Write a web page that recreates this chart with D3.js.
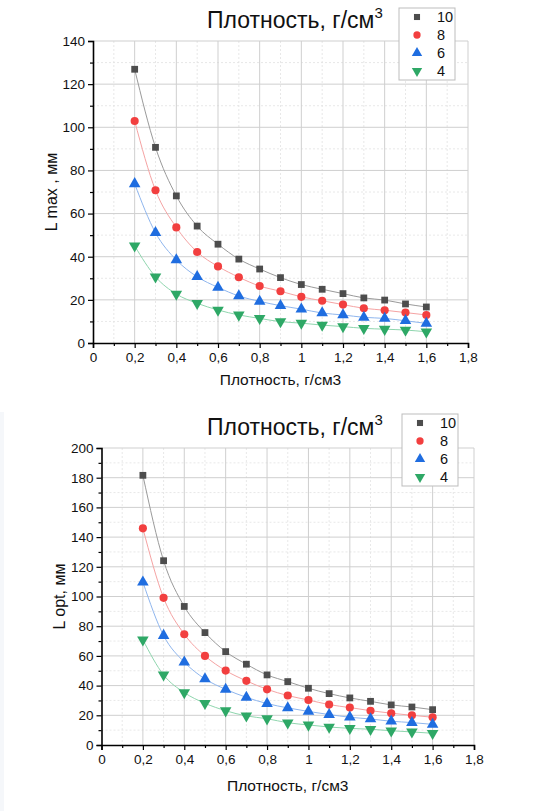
<!DOCTYPE html>
<html><head><meta charset="utf-8">
<script src="https://cdn.jsdelivr.net/npm/d3@7"></script>
<style>
body{margin:0;background:#fff;}
svg{display:block;font-family:"Liberation Sans",Arial,sans-serif;}
</style></head>
<body>
<svg id="c" width="545" height="811"></svg>
<script>
const density = [0.2,0.3,0.4,0.5,0.6,0.7,0.8,0.9,1.0,1.1,1.2,1.3,1.4,1.5,1.6];
const seriesNames = ["10","8","6","4"];
const lmax10 = [126.9,90.7,68.2,54.2,45.8,38.9,34.3,30.3,27.1,24.9,22.9,20.9,19.9,18.1,16.7];
const lmax8  = [102.9,70.8,53.6,42.2,35.5,30.5,26.4,24.0,21.4,19.6,17.8,16.1,15.2,14.1,13.0];
const lmax6  = [73.8,51.1,38.5,30.7,25.8,21.8,19.3,17.3,15.7,13.9,13.0,11.9,11.4,10.3,9.1];
const lmax4  = [45.0,30.7,22.7,18.4,15.3,13.0,11.4,9.9,9.2,8.3,7.6,6.8,6.4,6.0,5.2];
const lopt10 = [181.6,124.1,93.3,75.7,62.9,54.4,47.2,42.7,38.2,34.6,31.7,29.4,27.0,25.6,23.8];
const lopt8  = [145.9,99.1,74.6,60.0,50.1,43.2,37.5,33.3,30.3,27.2,25.2,23.1,21.4,20.0,18.7];
const lopt6  = [109.7,73.7,55.8,44.5,37.5,32.1,27.9,25.0,22.6,20.5,18.7,17.5,16.0,15.1,13.9];
const lopt4  = [70.8,47.2,35.3,28.1,23.1,19.6,17.7,15.0,13.5,12.1,11.2,10.6,9.6,8.8,7.9];
const xTicks = [0,0.2,0.4,0.6,0.8,1,1.2,1.4,1.6,1.8];
const lmaxTicks = [0,20,40,60,80,100,120,140];
const loptTicks = [0,20,40,60,80,100,120,140,160,180,200];
const titleText = "Плотность, г/см";
const xTitle = "Плотность, г/см3";

const markerColors = ["#4d4d4d","#f23f3f","#1f6de0","#2ea866"];
const lineColors = ["#9a9a9a","#f5a3a3","#8fb6ee","#8fd6ae"];
const shapes = [d3.symbolSquare, d3.symbolCircle, d3.symbolTriangle, d3.symbolTriangle];
const sizes = [46, 52, 58, 58];
const rots = [0,0,0,180];

const svg = d3.select("#c");
svg.append("rect").attr("x",0).attr("y",412).attr("width",4).attr("height",399).attr("fill","#f5f7fa");

const fmt = v => String(v).replace(".", ",");

function drawChart(cfg){
  const g = svg.append("g");
  const x = d3.scaleLinear().domain([0,1.8]).range([cfg.left,cfg.right]);
  const y = d3.scaleLinear().domain([0,cfg.ymax]).range([cfg.bottom,cfg.top]);
  const xMinor = d3.range(0.1,1.8,0.2);
  const yMinor = d3.range(cfg.ystep/2, cfg.ymax, cfg.ystep);
  g.selectAll(".xmg").data(xMinor).join("line")
    .attr("x1",d=>x(d)).attr("x2",d=>x(d)).attr("y1",cfg.top).attr("y2",cfg.bottom)
    .attr("stroke","#e2e2e2").attr("stroke-dasharray","2,2").attr("stroke-width",0.8);
  g.selectAll(".ymg").data(yMinor).join("line")
    .attr("x1",cfg.left).attr("x2",cfg.right).attr("y1",d=>y(d)).attr("y2",d=>y(d))
    .attr("stroke","#e2e2e2").attr("stroke-dasharray","2,2").attr("stroke-width",0.8);
  g.selectAll(".xg").data(xTicks.slice(1)).join("line")
    .attr("x1",d=>x(d)).attr("x2",d=>x(d)).attr("y1",cfg.top).attr("y2",cfg.bottom)
    .attr("stroke","#cfcfcf").attr("stroke-width",1);
  g.selectAll(".yg").data(cfg.yTicks.slice(1)).join("line")
    .attr("x1",cfg.left).attr("x2",cfg.right).attr("y1",d=>y(d)).attr("y2",d=>y(d))
    .attr("stroke","#cfcfcf").attr("stroke-width",1);

  const xAxis = d3.axisBottom(x).tickValues(xTicks).tickFormat(fmt).tickSize(5).tickPadding(4);
  const xa = g.append("g").attr("transform",`translate(0,${cfg.bottom})`).call(xAxis);
  const yAxis = d3.axisLeft(y).tickValues(cfg.yTicks).tickFormat(d=>d).tickSize(5).tickPadding(3);
  const ya = g.append("g").attr("transform",`translate(${cfg.left},0)`).call(yAxis);
  [xa,ya].forEach(a=>{
    a.select(".domain").attr("stroke","#000").attr("stroke-width",1.6);
    a.selectAll(".tick line").attr("stroke","#000").attr("stroke-width",1.2);
    a.selectAll("text").attr("fill","#111").style("font-size","13.5px").style("font-family","'Liberation Sans',Arial,sans-serif");
  });
  const xm = d3.axisBottom(x).tickValues(xMinor).tickFormat("").tickSize(3);
  g.append("g").attr("transform",`translate(0,${cfg.bottom})`).call(xm)
    .call(a=>{a.select(".domain").remove();a.selectAll("line").attr("stroke","#000").attr("stroke-width",1.2);});
  const ym = d3.axisLeft(y).tickValues(yMinor).tickFormat("").tickSize(3);
  g.append("g").attr("transform",`translate(${cfg.left},0)`).call(ym)
    .call(a=>{a.select(".domain").remove();a.selectAll("line").attr("stroke","#000").attr("stroke-width",1.2);});

  const line = d3.line().x((d,i)=>x(density[i])).y(d=>y(d)).curve(d3.curveMonotoneX);
  cfg.series.forEach((s,k)=>{
    g.append("path").attr("d",line(s)).attr("fill","none").attr("stroke",lineColors[k]).attr("stroke-width",1);
  });
  cfg.series.forEach((s,k)=>{
    const sym = d3.symbol().type(shapes[k]).size(sizes[k]);
    g.selectAll(null).data(s).join("path")
      .attr("d",sym)
      .attr("transform",(d,i)=>`translate(${x(density[i])},${y(d)}) rotate(${rots[k]})`)
      .attr("fill",markerColors[k]);
  });

  const t = g.append("text").attr("x",cfg.titleX).attr("y",cfg.titleY)
    .style("font-size","23px").attr("fill","#111");
  t.append("tspan").text(titleText);
  t.append("tspan").text("3").attr("dy",-10).style("font-size","15px");

  g.append("text").attr("x",(cfg.left+cfg.right)/2).attr("y",cfg.xTitleY)
    .attr("text-anchor","middle").style("font-size","15.5px").attr("fill","#111").text(xTitle);
  g.append("text").attr("transform",`translate(${cfg.yTitleX},${(cfg.top+cfg.bottom)/2}) rotate(-90)`)
    .attr("text-anchor","middle").style("font-size","16px").attr("fill","#111").text(cfg.yTitle);

  const lg = g.append("g");
  lg.append("rect").attr("x",cfg.legX).attr("y",cfg.legY).attr("width",56).attr("height",72)
    .attr("fill","#fff").attr("stroke","#bdbdbd").attr("stroke-width",1);
  seriesNames.forEach((n,k)=>{
    const yy = cfg.legY + 9 + k*18;
    lg.append("path").attr("d",d3.symbol().type(shapes[k]).size(sizes[k]*0.8))
      .attr("transform",`translate(${cfg.legX+18},${yy}) rotate(${rots[k]})`).attr("fill",markerColors[k]);
    lg.append("text").attr("x",cfg.legX+38).attr("y",yy+5).style("font-size","14.5px").attr("fill","#111").text(n);
  });
}

drawChart({left:93,right:468,top:41,bottom:343,ymax:140,ystep:20,yTicks:lmaxTicks,
  series:[lmax10,lmax8,lmax6,lmax4],titleX:207,titleY:28,xTitleY:385,yTitleX:57,yTitle:"L max  , мм",
  legX:399,legY:8});
drawChart({left:101.5,right:474,top:448,bottom:745,ymax:200,ystep:20,yTicks:loptTicks,
  series:[lopt10,lopt8,lopt6,lopt4],titleX:207,titleY:435,xTitleY:791,yTitleX:65,yTitle:"L opt, мм",
  legX:402,legY:414});
</script>
</body></html>
